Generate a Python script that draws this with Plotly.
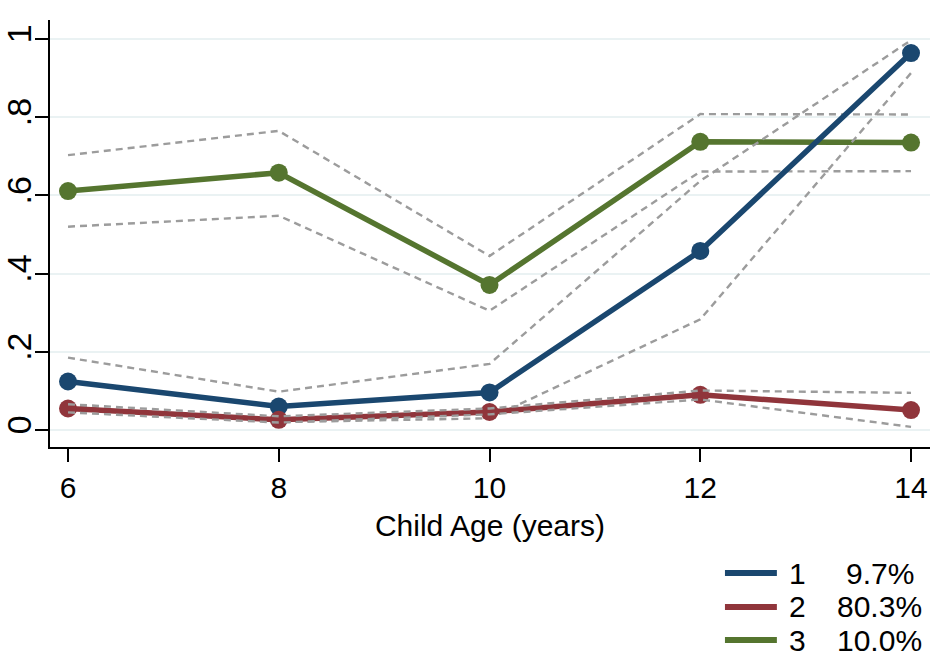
import plotly.graph_objects as go

ages = [6, 8, 10, 12, 14]
groups = ["1", "2", "3"]
shares = ["9.7%", "80.3%", "10.0%"]

g1_mean = [0.124, 0.060, 0.096, 0.458, 0.964]
g1_low = [0.062, 0.020, 0.030, 0.283, 0.913]
g1_high = [0.185, 0.098, 0.169, 0.637, 0.997]

g2_mean = [0.055, 0.026, 0.046, 0.090, 0.051]
g2_low = [0.045, 0.019, 0.040, 0.078, 0.008]
g2_high = [0.066, 0.035, 0.055, 0.101, 0.095]

g3_mean = [0.611, 0.658, 0.371, 0.737, 0.735]
g3_low = [0.520, 0.548, 0.305, 0.661, 0.662]
g3_high = [0.703, 0.765, 0.445, 0.808, 0.807]

yticks = [0, 0.2, 0.4, 0.6, 0.8, 1]
ytick_labels = ["0", ".2", ".4", ".6", ".8", "1"]
xticks = [6, 8, 10, 12, 14]

colors = ["#1a476f", "#90353b", "#55752f"]
ci_color = "#9c9c9c"
FONT = "Liberation Sans, Arial, sans-serif"

fig = go.Figure()


def add_ci(low, high):
    for s in (low, high):
        fig.add_trace(go.Scatter(x=ages, y=s, mode="lines",
                                 line=dict(color=ci_color, width=2.4, dash="7px,5px"),
                                 showlegend=False, hoverinfo="skip"))


def add_mean(vals, color, name):
    fig.add_trace(go.Scatter(x=ages, y=vals, mode="lines+markers", name=name,
                             line=dict(color=color, width=5.5),
                             marker=dict(color=color, size=18),
                             showlegend=False))


add_ci(g3_low, g3_high)
add_mean(g3_mean, colors[2], groups[2])
add_ci(g1_low, g1_high)
add_mean(g1_mean, colors[0], groups[0])
add_mean(g2_mean, colors[1], groups[1])
add_ci(g2_low, g2_high)

# manual legend (bottom right); paper y = (447 - py) / 427
leg_y = [-0.2951, -0.3747, -0.452]
for i in range(3):
    fig.add_shape(type="line", xref="paper", yref="paper",
                  x0=0.767, x1=0.826, y0=leg_y[i], y1=leg_y[i],
                  line=dict(color=colors[i], width=6))
    fig.add_annotation(xref="paper", yref="paper", x=0.849, y=leg_y[i],
                       text=groups[i], showarrow=False, xanchor="center", yanchor="middle",
                       font=dict(family=FONT, size=30, color="black"))
    fig.add_annotation(xref="paper", yref="paper", x=0.943, y=leg_y[i],
                       text=shares[i], showarrow=False, xanchor="center", yanchor="middle",
                       font=dict(family=FONT, size=30, color="black"))

fig.update_layout(
    width=947, height=658,
    margin=dict(l=50, r=17, t=20, b=211),
    paper_bgcolor="white", plot_bgcolor="white",
    font=dict(family=FONT, size=30, color="black"),
    showlegend=False,
)
fig.update_xaxes(range=[5.829, 14.18], tickvals=xticks, ticks="outside", ticklen=13,
                 tickwidth=2, tickcolor="black", showline=True, linecolor="black",
                 linewidth=2, showgrid=False, zeroline=False, automargin=False,
                 tickfont=dict(family=FONT, size=30),
                 title=dict(text="Child Age (years)", font=dict(family=FONT, size=30), standoff=12))
fig.update_yaxes(range=[-0.0435, 1.0486], tickvals=yticks, ticktext=ytick_labels,
                 tickangle=-90, ticks="outside", ticklen=13, tickwidth=2, tickcolor="black",
                 showline=True, linecolor="black", linewidth=2, automargin=False,
                 ticklabelstandoff=-10,
                 showgrid=True, gridcolor="#eaf2f3", gridwidth=2, zeroline=False,
                 tickfont=dict(family=FONT, size=34))

fig.write_html("out.html", config={"displayModeBar": False},
               post_script="document.body.style.margin='0';document.body.style.overflow='hidden';")
